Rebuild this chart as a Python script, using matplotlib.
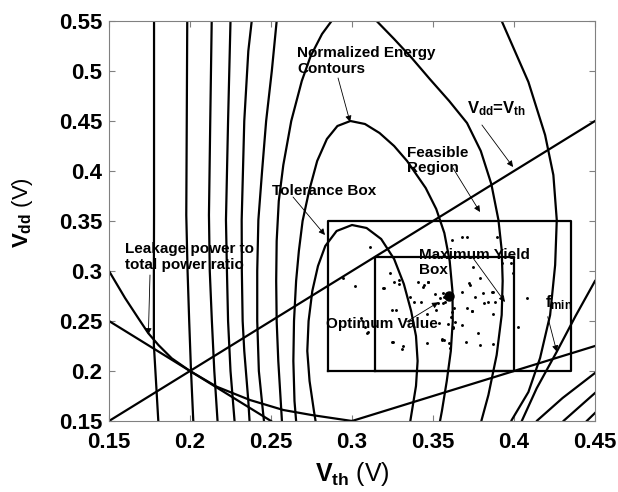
import matplotlib.pyplot as plt

plt.rcParams['font.family'] = ['Liberation Sans', 'DejaVu Sans']
plt.rcParams['font.weight'] = 'bold'
plt.rcParams['mathtext.fontset'] = 'custom'
plt.rcParams['mathtext.rm'] = 'Liberation Sans:bold'
plt.rcParams['mathtext.it'] = 'Liberation Sans:bold'
plt.rcParams['mathtext.bf'] = 'Liberation Sans:bold'

# Normalized energy contours, innermost first (Vth, Vdd in volts)
E1_VTH = [0.2795, 0.2765, 0.2738, 0.2724, 0.2732, 0.2755, 0.2790, 0.2835, 0.2905, 0.3000,
          0.3090, 0.3180, 0.3260, 0.3320, 0.3365, 0.3395, 0.3405, 0.3395, 0.3370, 0.3340]
E1_VDD = [0.130, 0.160, 0.190, 0.220, 0.250, 0.280, 0.305, 0.325, 0.340, 0.346,
          0.343, 0.332, 0.312, 0.287, 0.260, 0.235, 0.210, 0.185, 0.160, 0.130]

E2_VTH = [0.2665, 0.2645, 0.2638, 0.2642, 0.2655, 0.2672, 0.2695, 0.2735, 0.2785, 0.2845,
          0.2910, 0.2990, 0.3080, 0.3170, 0.3260, 0.3340, 0.3455, 0.3520, 0.3570, 0.3603,
          0.3620, 0.3622, 0.3610, 0.3585, 0.3555, 0.3520]
E2_VDD = [0.130, 0.170, 0.210, 0.250, 0.290, 0.320, 0.350, 0.380, 0.410, 0.432,
          0.445, 0.450, 0.447, 0.438, 0.425, 0.410, 0.383, 0.362, 0.338, 0.310,
          0.280, 0.250, 0.220, 0.190, 0.160, 0.130]

E3_VTH = [0.2575, 0.2560, 0.2545, 0.2535, 0.2532, 0.2535, 0.2548, 0.2576, 0.2625, 0.2690,
          0.2745, 0.2815, 0.2874, 0.2950, 0.3010, 0.3080, 0.3152, 0.3260, 0.3369, 0.3480,
          0.3600, 0.3710, 0.3795, 0.3860, 0.3904, 0.3924, 0.3930, 0.3924, 0.3893, 0.3842,
          0.3800, 0.3770]
E3_VDD = [0.130, 0.170, 0.210, 0.250, 0.290, 0.330, 0.370, 0.406, 0.450, 0.490,
          0.515, 0.537, 0.550, 0.558, 0.561, 0.558, 0.550, 0.532, 0.513, 0.492,
          0.470, 0.448, 0.420, 0.387, 0.351, 0.321, 0.290, 0.256, 0.216, 0.176,
          0.151, 0.130]

E4_VTH = [0.2470, 0.2450, 0.2425, 0.2415, 0.2415, 0.2422, 0.2445, 0.2470, 0.2505, 0.2535,
          0.2570, 0.3200, 0.3880, 0.3924, 0.4089, 0.4192, 0.4243, 0.4264, 0.4254, 0.4223,
          0.4161, 0.4089, 0.3986, 0.3930]
E4_VDD = [0.130, 0.160, 0.200, 0.250, 0.300, 0.351, 0.400, 0.450, 0.500, 0.550,
          0.580, 0.600, 0.580, 0.550, 0.489, 0.436, 0.396, 0.351, 0.306, 0.256,
          0.213, 0.179, 0.151, 0.130]

E5_VTH = [0.2375, 0.2360, 0.2335, 0.2325, 0.2320, 0.2319, 0.2335, 0.2360, 0.2381, 0.2395]
E5_VDD = [0.130, 0.170, 0.220, 0.250, 0.300, 0.351, 0.450, 0.520, 0.550, 0.580]
E5R_VTH = [0.4125, 0.4140, 0.4300, 0.4500, 0.4700]
E5R_VDD = [0.130, 0.150, 0.173, 0.198, 0.225]

E6_VTH = [0.2290, 0.2275, 0.2250, 0.2235, 0.2228, 0.2222, 0.2235, 0.2250, 0.2260]
E6_VDD = [0.130, 0.150, 0.200, 0.250, 0.300, 0.351, 0.450, 0.550, 0.580]
E6R_VTH = [0.4250, 0.4305, 0.4500, 0.4700]
E6R_VDD = [0.135, 0.150, 0.178, 0.205]

E7_VTH = [0.2185, 0.2170, 0.2150, 0.2135, 0.2122, 0.2117, 0.2125, 0.2134, 0.2138]
E7_VDD = [0.130, 0.150, 0.200, 0.250, 0.300, 0.356, 0.450, 0.550, 0.580]
E7R_VTH = [0.4400, 0.4449, 0.4500, 0.4700]
E7R_VDD = [0.140, 0.150, 0.158, 0.190]

E8_VTH = [0.2035, 0.2020, 0.2006, 0.1995, 0.1985, 0.1977, 0.1980, 0.1983, 0.1984]
E8_VDD = [0.130, 0.151, 0.201, 0.250, 0.300, 0.356, 0.450, 0.550, 0.580]

E9_VTH = [0.1812, 0.1804, 0.1790, 0.1777, 0.1777, 0.1778, 0.1778, 0.1778]
E9_VDD = [0.130, 0.151, 0.190, 0.226, 0.300, 0.356, 0.450, 0.580]

# Leakage power to total power ratio curve
LEAK_VTH = [0.150, 0.1599, 0.168, 0.1743, 0.1805, 0.1887, 0.200, 0.2165, 0.237, 0.2576, 0.275, 0.300]
LEAK_VDD = [0.300, 0.273, 0.253, 0.2377, 0.226, 0.2127, 0.200, 0.1843, 0.171, 0.161, 0.156, 0.150]

# Straight constraint lines
DIAG_VTH = [0.15, 0.45]
DIAG_VDD = [0.15, 0.45]
SUM_VTH = [0.15, 0.25]
SUM_VDD = [0.25, 0.15]
HALF_VTH = [0.30, 0.45]
HALF_VDD = [0.15, 0.225]

# Minimum frequency constraint
FMIN_VTH = [0.4048, 0.4140, 0.4264, 0.4380, 0.4500]
FMIN_VDD = [0.150, 0.1827, 0.2193, 0.255, 0.290]

# Tolerance box and maximum yield box: (vth_lo, vth_hi, vdd_lo, vdd_hi)
TOL_BOX = (0.285, 0.435, 0.200, 0.350)
YIELD_BOX = (0.314, 0.400, 0.200, 0.314)

OPT_VTH, OPT_VDD = 0.360, 0.275

# Monte Carlo samples of the operating point
SAMPLE_VTH = [0.3111, 0.3235, 0.3259, 0.3290, 0.3292, 0.3193, 0.3019, 0.2947, 0.3409, 0.3467,
              0.3440, 0.3358, 0.3385, 0.3424, 0.3570, 0.3560, 0.3529, 0.3677, 0.3722, 0.3728,
              0.3749, 0.3807, 0.3842, 0.3868, 0.3815, 0.3928, 0.3980, 0.3708, 0.3739, 0.3630,
              0.3615, 0.3609, 0.3681, 0.3623, 0.3591, 0.3539, 0.3245, 0.3272, 0.3091, 0.3255,
              0.3313, 0.3309, 0.3461, 0.3553, 0.3568, 0.3601, 0.3605, 0.3706, 0.3790, 0.3872,
              0.3780, 0.3872, 0.4027, 0.4078, 0.3615, 0.3708, 0.3893, 0.3996, 0.3790, 0.3883,
              0.3759, 0.3677, 0.3200, 0.3445, 0.3471, 0.3513, 0.3543, 0.3564, 0.3574, 0.3517,
              0.3461, 0.3636, 0.3626, 0.3056, 0.3080, 0.3097, 0.3245, 0.3554, 0.3862, 0.3738]
SAMPLE_VDD = [0.3237, 0.2977, 0.2893, 0.2910, 0.2867, 0.2827, 0.2850, 0.2927, 0.2887, 0.2890,
              0.2843, 0.2743, 0.2693, 0.2687, 0.2737, 0.2683, 0.2677, 0.2793, 0.2883, 0.2860,
              0.3037, 0.2783, 0.2693, 0.2787, 0.2677, 0.3083, 0.3083, 0.2627, 0.2600, 0.2627,
              0.2593, 0.2537, 0.2460, 0.2437, 0.2467, 0.2483, 0.2610, 0.2610, 0.2383, 0.2293,
              0.2250, 0.2220, 0.2277, 0.2320, 0.2310, 0.2277, 0.2227, 0.2293, 0.2260, 0.2270,
              0.2383, 0.2570, 0.2437, 0.2733, 0.3310, 0.3337, 0.3337, 0.2977, 0.2933, 0.2687,
              0.2743, 0.3343, 0.2833, 0.2860, 0.2893, 0.2767, 0.2733, 0.2777, 0.2693, 0.2610,
              0.2567, 0.2493, 0.2427, 0.2527, 0.2443, 0.2393, 0.2293, 0.2310, 0.2787, 0.2600]

X_TICKS = [0.15, 0.2, 0.25, 0.3, 0.35, 0.4, 0.45]
X_LABELS = ['0.15', '0.2', '0.25', '0.3', '0.35', '0.4', '0.45']
Y_TICKS = [0.15, 0.2, 0.25, 0.3, 0.35, 0.4, 0.45, 0.5, 0.55]
Y_LABELS = ['0.15', '0.2', '0.25', '0.3', '0.35', '0.4', '0.45', '0.5', '0.55']

LW = 1.6
SPINE = '#808080'


def box_path(b):
    x0, x1, y0, y1 = b
    return [x0, x1, x1, x0, x0], [y0, y0, y1, y1, y0]


def arrow(ax, tail, tip):
    ax.annotate('', xy=tip, xytext=tail,
                arrowprops=dict(arrowstyle='-|>', lw=0.6, color='k',
                                mutation_scale=9, shrinkA=0, shrinkB=0))


fig = plt.figure(figsize=(6.18, 4.92), dpi=100)
ax = fig.add_axes([109 / 618, 71 / 492, 486 / 618, 400 / 492])

contours = [(E1_VTH, E1_VDD), (E2_VTH, E2_VDD), (E3_VTH, E3_VDD), (E4_VTH, E4_VDD),
            (E5_VTH, E5_VDD), (E5R_VTH, E5R_VDD), (E6_VTH, E6_VDD), (E6R_VTH, E6R_VDD),
            (E7_VTH, E7_VDD), (E7R_VTH, E7R_VDD), (E8_VTH, E8_VDD), (E9_VTH, E9_VDD)]
for xs, ys in contours:
    ax.plot(xs, ys, color='k', lw=LW)

ax.plot(LEAK_VTH, LEAK_VDD, color='k', lw=LW)
ax.plot(DIAG_VTH, DIAG_VDD, color='k', lw=LW)
ax.plot(SUM_VTH, SUM_VDD, color='k', lw=LW)
ax.plot(HALF_VTH, HALF_VDD, color='k', lw=LW)
ax.plot(FMIN_VTH, FMIN_VDD, color='k', lw=LW)

ax.plot(*box_path(TOL_BOX), color='k', lw=LW)
ax.plot(*box_path(YIELD_BOX), color='k', lw=LW)

ax.plot(SAMPLE_VTH, SAMPLE_VDD, 'o', color='k', ms=2.1, mec='none')
ax.plot([OPT_VTH], [OPT_VDD], 'o', color='k', ms=6.5)

# Annotations
fs = 11
ax.text(0.2660, 0.5245, 'Normalized Energy\nContours', fontsize=fs, va='top', ha='left',
        linespacing=1.15)
arrow(ax, (0.2914, 0.493), (0.2988, 0.449))

ax.text(0.3710, 0.462, r'$V_{dd}$=$V_{th}$', fontsize=fs + 1, va='center', ha='left')
arrow(ax, (0.3802, 0.446), (0.3994, 0.404))

ax.text(0.3340, 0.4105, 'Feasible\nRegion', fontsize=fs, va='center', ha='left',
        linespacing=1.15)
arrow(ax, (0.3623, 0.403), (0.379, 0.359))

ax.text(0.2506, 0.380, 'Tolerance Box', fontsize=fs, va='center', ha='left')
arrow(ax, (0.2636, 0.374), (0.2833, 0.336))

ax.text(0.1599, 0.314, 'Leakage power to\ntotal power ratio', fontsize=fs, va='center',
        ha='left', linespacing=1.15)
arrow(ax, (0.1753, 0.296), (0.1743, 0.2365))

ax.text(0.3414, 0.3085, 'Maximum Yield\nBox', fontsize=fs, va='center', ha='left',
        linespacing=1.15)
arrow(ax, (0.3747, 0.313), (0.3944, 0.269))

ax.text(0.2840, 0.247, 'Optimum Value', fontsize=fs, va='center', ha='left')
arrow(ax, (0.3338, 0.2493), (0.3533, 0.2687))

ax.text(0.4190, 0.268, r'$f_{min}$', fontsize=fs + 1, va='center', ha='left')
arrow(ax, (0.4208, 0.2543), (0.4264, 0.2193))

ax.set_xlim(0.15, 0.45)
ax.set_ylim(0.15, 0.55)
ax.set_xticks(X_TICKS)
ax.set_xticklabels(X_LABELS)
ax.set_yticks(Y_TICKS)
ax.set_yticklabels(Y_LABELS)
ax.tick_params(direction='in', length=4, width=0.8, color=SPINE, labelsize=16,
               top=True, right=True)
ax.tick_params(axis='x', pad=8)
ax.tick_params(axis='y', pad=5)
for s in ax.spines.values():
    s.set_color(SPINE)
    s.set_linewidth(0.8)

ax.set_xlabel(r'$V_{th}$ (V)', fontsize=18, labelpad=5)
ax.set_ylabel(r'$V_{dd}$ (V)', fontsize=16)
ax.yaxis.set_label_coords(-0.152, 0.52)

fig.savefig('out.png', dpi=100, facecolor='white')
